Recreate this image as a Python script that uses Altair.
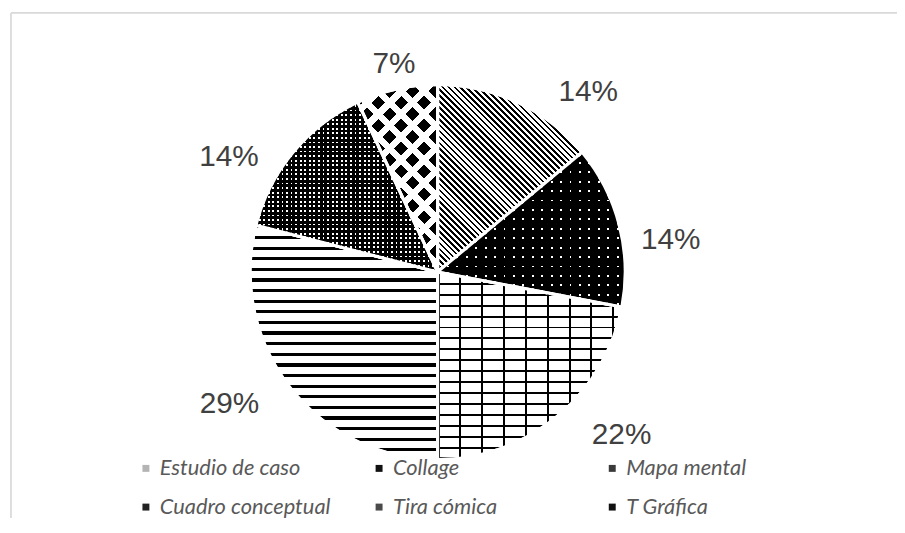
import math
import altair as alt
import pandas as pd

# ---------------- data ----------------
categories = ["Estudio de caso", "Collage", "Mapa mental", "Cuadro conceptual", "Tira cómica", "T Gráfica"]
values = [14, 14, 22, 29, 14, 7]
labels = ["14%", "14%", "22%", "29%", "14%", "7%"]

df = pd.DataFrame({"cat": categories, "value": values, "label": labels,
                   "idx": list(range(len(categories)))})

# ---------------- layout / style ----------------
W, H = 896, 512
CX, CY = 433, 264
R = 189
LABEL_R = 225
label_offsets = [(56, 22), (17, 24), (42, -9), (-32, -5), (-37, 28), (5, 10)]
legend_colors = ["#b4b4b4", "#111111", "#3a3a3a", "#222222", "#4a4a4a", "#111111"]
# legend grid fills column by column: reorder so rows read like the original
legend_order = [0, 3, 1, 4, 2, 5]
CLEAR = "rgba(0,0,0,0)"


def slice_bbox(a0, a1, r):
    pts = [(0.0, 0.0)]
    for a in (a0, a1):
        pts.append((r * math.sin(a), -r * math.cos(a)))
    for k in range(5):
        a = k * math.pi / 2
        if a0 < a < a1:
            pts.append((r * math.sin(a), -r * math.cos(a)))
    xs = [p[0] for p in pts]
    ys = [p[1] for p in pts]
    return max(xs) - min(xs), max(ys) - min(ys)


def stripes(w, h, phi_deg, period, duty, c1, c2):
    phi = math.radians(phi_deg)
    c, s = math.cos(phi), math.sin(phi)
    if abs(c) < 1e-9:
        c = 0.0
    if abs(s) < 1e-9:
        s = 0.0
    span = (abs(c) * w + abs(s) * h) / period
    n = int(math.ceil(span)) + 1
    a = c * w / (period * n)
    b = s * h / (period * n)
    d = a * a + b * b
    x1 = 0.0 if c >= 0 else 1.0
    y1 = 0.0 if s >= 0 else 1.0
    x2 = x1 + a / d
    y2 = y1 + b / d
    stops = []
    for k in range(n):
        o0 = k / n
        om = (k + duty) / n
        o1 = (k + 1) / n
        stops += [{"offset": round(o0, 6), "color": c1},
                  {"offset": round(om, 6), "color": c1},
                  {"offset": round(om, 6), "color": c2},
                  {"offset": round(o1, 6), "color": c2}]
    return {"gradient": "linear", "x1": round(x1, 6), "y1": round(y1, 6),
            "x2": round(x2, 6), "y2": round(y2, 6), "stops": stops}


total = float(sum(values))
bboxes = []
acc = 0.0
for v in values:
    a0 = acc / total * 2 * math.pi
    acc += v
    a1 = acc / total * 2 * math.pi
    bboxes.append(slice_bbox(a0, a1, R))

# pattern style per slice: (layer A spec, layer B spec)
pattern_specs = [
    ((-45, 4.2, 0.45, "#000000", "#ffffff"), None),                                   # diagonal stripes
    ((90, 9.5, 0.2, "#ffffff", "#000000"), (0, 9.5, 0.2, CLEAR, "#000000")),          # black w/ white dots
    ((90, 11.0, 0.18, "#000000", "#ffffff"), (0, 22.0, 0.09, "#000000", CLEAR)),      # bricks
    ((90, 10.7, 0.30, "#000000", "#ffffff"), None),                                   # horizontal stripes
    ((90, 4.6, 0.6, "#000000", "#ffffff"), (0, 4.6, 0.6, "#000000", CLEAR)),          # fine checks
    ((-45, 16.3, 0.6, "#000000", "#ffffff"), (45, 16.3, 0.4, "#ffffff", CLEAR)),      # diamonds
]


def cond_fill(layer_index, default):
    conds = []
    for cat, (w, h), spec in zip(categories, bboxes, pattern_specs):
        p = spec[layer_index]
        if p is None:
            continue
        conds.append({"test": f"datum['cat'] === '{cat}'", "value": stripes(w, h, *p)})
    return alt.FillValue(value=default, condition=conds)


theta = alt.Theta("value:Q", stack=True)
order = alt.Order("idx:Q", sort="ascending")

one = pd.DataFrame({"k": [0]})
border_top = alt.Chart(one).mark_rule(color="#d9d9d9", strokeWidth=1.75).encode(
    x=alt.value(3), x2=alt.value(W), y=alt.value(3))
border_left = alt.Chart(one).mark_rule(color="#d9d9d9", strokeWidth=1.75).encode(
    x=alt.value(3), y=alt.value(3), y2=alt.value(H))

legend_domain = [categories[i] for i in legend_order]
legend_range = [legend_colors[i] for i in legend_order]

base = alt.Chart(df).mark_arc(radius=R, stroke="white", strokeWidth=3).encode(
    theta=theta, order=order,
    color=alt.Color("cat:N", sort=legend_domain,
                    scale=alt.Scale(domain=legend_domain, range=legend_range),
                    legend=alt.Legend(title=None, orient="none", legendX=128, legendY=451,
                                      columns=3, symbolType="square", symbolSize=49,
                                      symbolStrokeWidth=0, labelFont="Lato",
                                      labelFontStyle="italic", labelFontSize=22,
                                      labelColor="#595959", labelOffset=3, rowPadding=17,
                                      columnPadding=37, gridAlign="all", padding=0,
                                      labelLimit=400)),
    x=alt.value(CX), y=alt.value(CY))

pat_a = alt.Chart(df).mark_arc(radius=R, stroke="white", strokeWidth=3).encode(
    theta=theta, order=order, fill=cond_fill(0, "#ffffff"),
    x=alt.value(CX), y=alt.value(CY))

pat_b = alt.Chart(df).mark_arc(radius=R, stroke="white", strokeWidth=3).encode(
    theta=theta, order=order, fill=cond_fill(1, CLEAR),
    x=alt.value(CX), y=alt.value(CY))

texts = []
for cat, (dx, dy) in zip(categories, label_offsets):
    texts.append(
        alt.Chart(df).mark_text(radius=LABEL_R, dx=dx, dy=dy, font="Liberation Sans",
                                fontSize=30, color="#404040", align="center",
                                baseline="middle").encode(
            theta=theta, order=order,
            text=alt.condition(f"datum['cat'] === '{cat}'", alt.Text("label:N"), alt.value("")),
            x=alt.value(CX), y=alt.value(CY)))

chart = alt.layer(border_top, border_left, base, pat_a, pat_b, *texts).properties(
    width=W, height=H, padding=0, autosize=alt.AutoSizeParams(type="none"),
    background="white"
).configure_view(stroke=None)

chart.save("out.html", embed_options={"renderer": "svg", "actions": False})
